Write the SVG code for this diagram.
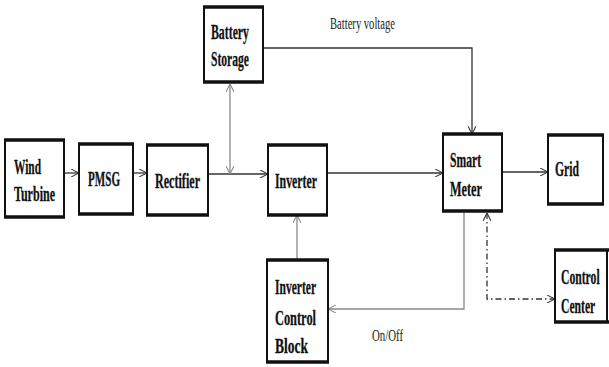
<svg xmlns="http://www.w3.org/2000/svg" width="609" height="367" viewBox="0 0 609 367">
<defs>
<marker id="arr" viewBox="0 0 10 10" refX="10" refY="5" markerWidth="8" markerHeight="8" markerUnits="userSpaceOnUse" orient="auto-start-reverse">
<path d="M0,0 L10,5 L0,10" fill="none" stroke="#333" stroke-width="1.3"/>
</marker>
<marker id="arrg" viewBox="0 0 10 10" refX="10" refY="5" markerWidth="8" markerHeight="8" markerUnits="userSpaceOnUse" orient="auto-start-reverse">
<path d="M0,0 L10,5 L0,10" fill="none" stroke="#888" stroke-width="1.3"/>
</marker>
</defs>
<style>
.box{fill:#fff;stroke:#111;stroke-width:2}
.edge{stroke:#111;stroke-width:3.5;fill:none}
.t{font-family:"Liberation Serif","Times New Roman",serif;font-weight:bold;font-size:22px;fill:#111;stroke:#111;stroke-width:0.3}
.lbl{font-family:"Liberation Serif","Times New Roman",serif;font-size:16px;fill:#222}
.c{fill:none;stroke:#333;stroke-width:1.3}
.cg{fill:none;stroke:#888;stroke-width:1.3}
</style>
<rect width="609" height="367" fill="#fff"/>
<g id="connectors">
<path class="c" d="M64,173 L79,173" marker-end="url(#arr)"/>
<path class="c" d="M133,173 L147,173" marker-end="url(#arr)"/>
<path class="c" d="M208,174 L268,174" marker-end="url(#arr)"/>
<path class="cg" d="M230,84 L230,174" marker-start="url(#arrg)" marker-end="url(#arrg)"/>
<path class="c" d="M263,48 L472,48 L472,134" marker-end="url(#arr)"/>
<path class="c" d="M327,173 L443,173" marker-end="url(#arr)"/>
<path class="c" d="M502,172 L548,172" marker-end="url(#arr)"/>
<path class="cg" d="M297,260 L297,215" marker-end="url(#arrg)"/>
<path class="cg" d="M464,212 L464,309 L328,309" marker-end="url(#arrg)"/>
<path class="c" d="M487,213 L487,299 L555,299" stroke-dasharray="6,3,1.5,3" marker-start="url(#arr)" marker-end="url(#arr)"/>
<text class="lbl" x="330" y="29" textLength="65" lengthAdjust="spacingAndGlyphs">Battery voltage</text>
<text class="lbl" x="372" y="341" textLength="31" lengthAdjust="spacingAndGlyphs">On/Off</text>
</g>
<g id="battery-storage">
<rect class="box" x="204" y="7" width="59" height="75"/>
<path class="edge" d="M203,7 H264 M203,82 H264"/>
<text class="t" x="211" y="39" textLength="38" lengthAdjust="spacingAndGlyphs">Battery</text>
<text class="t" x="211" y="66" textLength="38" lengthAdjust="spacingAndGlyphs">Storage</text>
</g>
<g id="wind-turbine">
<rect class="box" x="5" y="140" width="59" height="77"/>
<path class="edge" d="M4,140 H65 M4,217 H65"/>
<text class="t" x="14" y="174" textLength="27" lengthAdjust="spacingAndGlyphs">Wind</text>
<text class="t" x="14" y="201" textLength="41" lengthAdjust="spacingAndGlyphs">Turbine</text>
</g>
<g id="pmsg">
<rect class="box" x="79" y="144" width="54" height="70"/>
<path class="edge" d="M78,144 H134 M78,214 H134"/>
<text class="t" x="88" y="186" textLength="32" lengthAdjust="spacingAndGlyphs">PMSG</text>
</g>
<g id="rectifier">
<rect class="box" x="147" y="145" width="61" height="70"/>
<path class="edge" d="M146,145 H209 M146,215 H209"/>
<text class="t" x="155" y="188" textLength="45" lengthAdjust="spacingAndGlyphs">Rectifier</text>
</g>
<g id="inverter">
<rect class="box" x="268" y="145" width="59" height="70"/>
<path class="edge" d="M267,145 H328 M267,215 H328"/>
<text class="t" x="275" y="188" textLength="42" lengthAdjust="spacingAndGlyphs">Inverter</text>
</g>
<g id="smart-meter">
<rect class="box" x="443" y="134" width="59" height="77"/>
<path class="edge" d="M442,134 H503 M442,211 H503"/>
<text class="t" x="450" y="167" textLength="31" lengthAdjust="spacingAndGlyphs">Smart</text>
<text class="t" x="450" y="196" textLength="32" lengthAdjust="spacingAndGlyphs">Meter</text>
</g>
<g id="grid">
<rect class="box" x="548" y="135" width="55" height="69"/>
<path class="edge" d="M547,135 H604 M547,204 H604"/>
<text class="t" x="555" y="176" textLength="24" lengthAdjust="spacingAndGlyphs">Grid</text>
</g>
<g id="inverter-control-block">
<rect class="box" x="267" y="260" width="61" height="102"/>
<path class="edge" d="M266,260 H329 M266,362 H329"/>
<text class="t" x="275" y="294" textLength="41" lengthAdjust="spacingAndGlyphs">Inverter</text>
<text class="t" x="275" y="325" textLength="41" lengthAdjust="spacingAndGlyphs">Control</text>
<text class="t" x="275" y="353" textLength="33" lengthAdjust="spacingAndGlyphs">Block</text>
</g>
<g id="control-center">
<rect class="box" x="555" y="250" width="52" height="72"/>
<path class="edge" d="M554,250 H609 M554,322 H609"/>
<text class="t" transform="translate(561,284) scale(0.53,1)">Control</text>
<text class="t" transform="translate(561,313) scale(0.53,1)">Center</text>
</g>
</svg>
